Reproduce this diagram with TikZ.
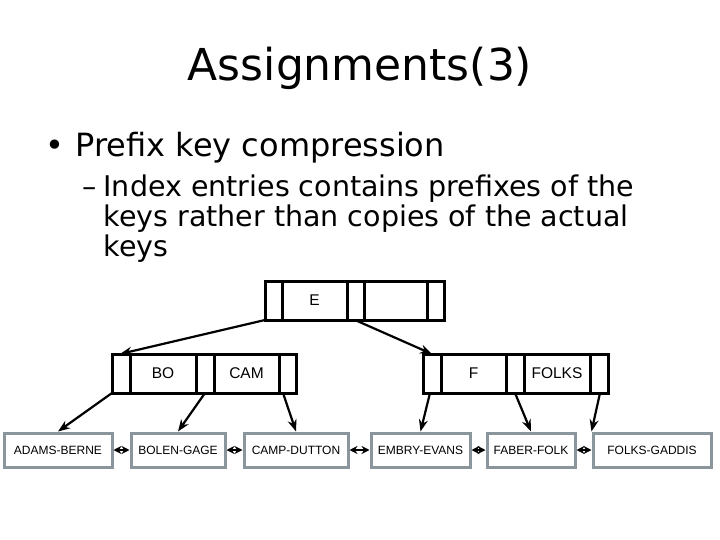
\documentclass[tikz,border=0pt]{standalone}
\usepackage{fontspec}
\setmainfont{DejaVu Sans}
\newfontfamily\arialf{Liberation Sans}
\usetikzlibrary{arrows.meta}
\begin{document}
\begin{tikzpicture}[x=1pt,y=-1pt,
  leaf/.style={draw=gray!70!cyan!40!gray,line width=3pt,minimum height=34pt,inner sep=0pt,font=\arialf\fontsize{12}{14}\selectfont},
  box/.style={draw,line width=3pt},
  lab/.style={font=\arialf\fontsize{15.5}{18}\selectfont},
  arr/.style={line width=2.2pt,-{Stealth[length=12pt,width=9pt]}},
  dbl/.style={line width=2.4pt,{Stealth[length=8pt,width=8pt]}-{Stealth[length=8pt,width=8pt]}}]
\useasboundingbox (0,0) rectangle (720,540);
\node[font=\fontsize{44}{50}\selectfont] (title) at (360,68) {Assignments(3)};
\node[anchor=west,font=\fontsize{32}{36}\selectfont] (b1) at (42,148) {•\hspace{0.35em}Prefix key compression};
\node[anchor=north west,align=left,font=\fontsize{28.5}{30}\selectfont,inner sep=0pt] (b2) at (82,175) {–\hspace{0.25em}Index entries contains prefixes of the\\\hspace{0.75em}keys rather than copies of the actual\\\hspace{0.75em}keys};
% top node
\draw[box] (265,281) rectangle (444,320);
\foreach \x in {282,347,364,427} \draw[box] (\x,281) -- (\x,320);
\node[lab] (e) at (314.5,300) {E};
\coordinate (t0) at (265,320); \coordinate (t1) at (355,320);
% left internal
\draw[box] (112,354) rectangle (296,393);
\foreach \x in {130,196,214,279} \draw[box] (\x,354) -- (\x,393);
\node[lab] (bo) at (163,373) {BO};
\node[lab] (cam) at (246.5,373) {CAM};
\coordinate (l0) at (112,393); \coordinate (l1) at (205,393); \coordinate (l2) at (283,393);
\coordinate (lt) at (120,354);
% right internal
\draw[box] (423,354) rectangle (608,393);
\foreach \x in {441,506,524,590} \draw[box] (\x,354) -- (\x,393);
\node[lab] (f) at (473.5,373) {F};
\node[lab] (folks) at (557,373) {FOLKS};
\coordinate (r0) at (430,393); \coordinate (r1) at (515,393); \coordinate (r2) at (600,393);
\coordinate (rt) at (432,354);
% leaves
\node[leaf,minimum width=108pt] (a) at (58,450) {ADAMS-BERNE};
\node[leaf,minimum width=94pt] (b) at (178,450) {BOLEN-GAGE};
\node[leaf,minimum width=104pt] (c) at (296,450) {CAMP-DUTTON};
\node[leaf,minimum width=99pt] (d) at (420.5,450) {EMBRY-EVANS};
\node[leaf,minimum width=88pt] (g) at (531,450) {FABER-FOLK};
\node[leaf,minimum width=118pt] (h) at (652,450) {FOLKS-GADDIS};
\draw[arr] (t0) -- (lt);
\draw[arr] (t1) -- (rt);
\draw[arr] (l0) -- (a.north);
\draw[arr] (l1) -- (b.north);
\draw[arr] (l2) -- (c.north);
\draw[arr] (r0) -- (d.north);
\draw[arr] (r1) -- (g.north);
\draw[arr] (r2) -- (h.north west);
\draw[dbl] (a) -- (b); \draw[dbl] (b) -- (c); \draw[dbl] (c) -- (d);
\draw[dbl] (d) -- (g); \draw[dbl] (g) -- (h);
\end{tikzpicture}
\end{document}
